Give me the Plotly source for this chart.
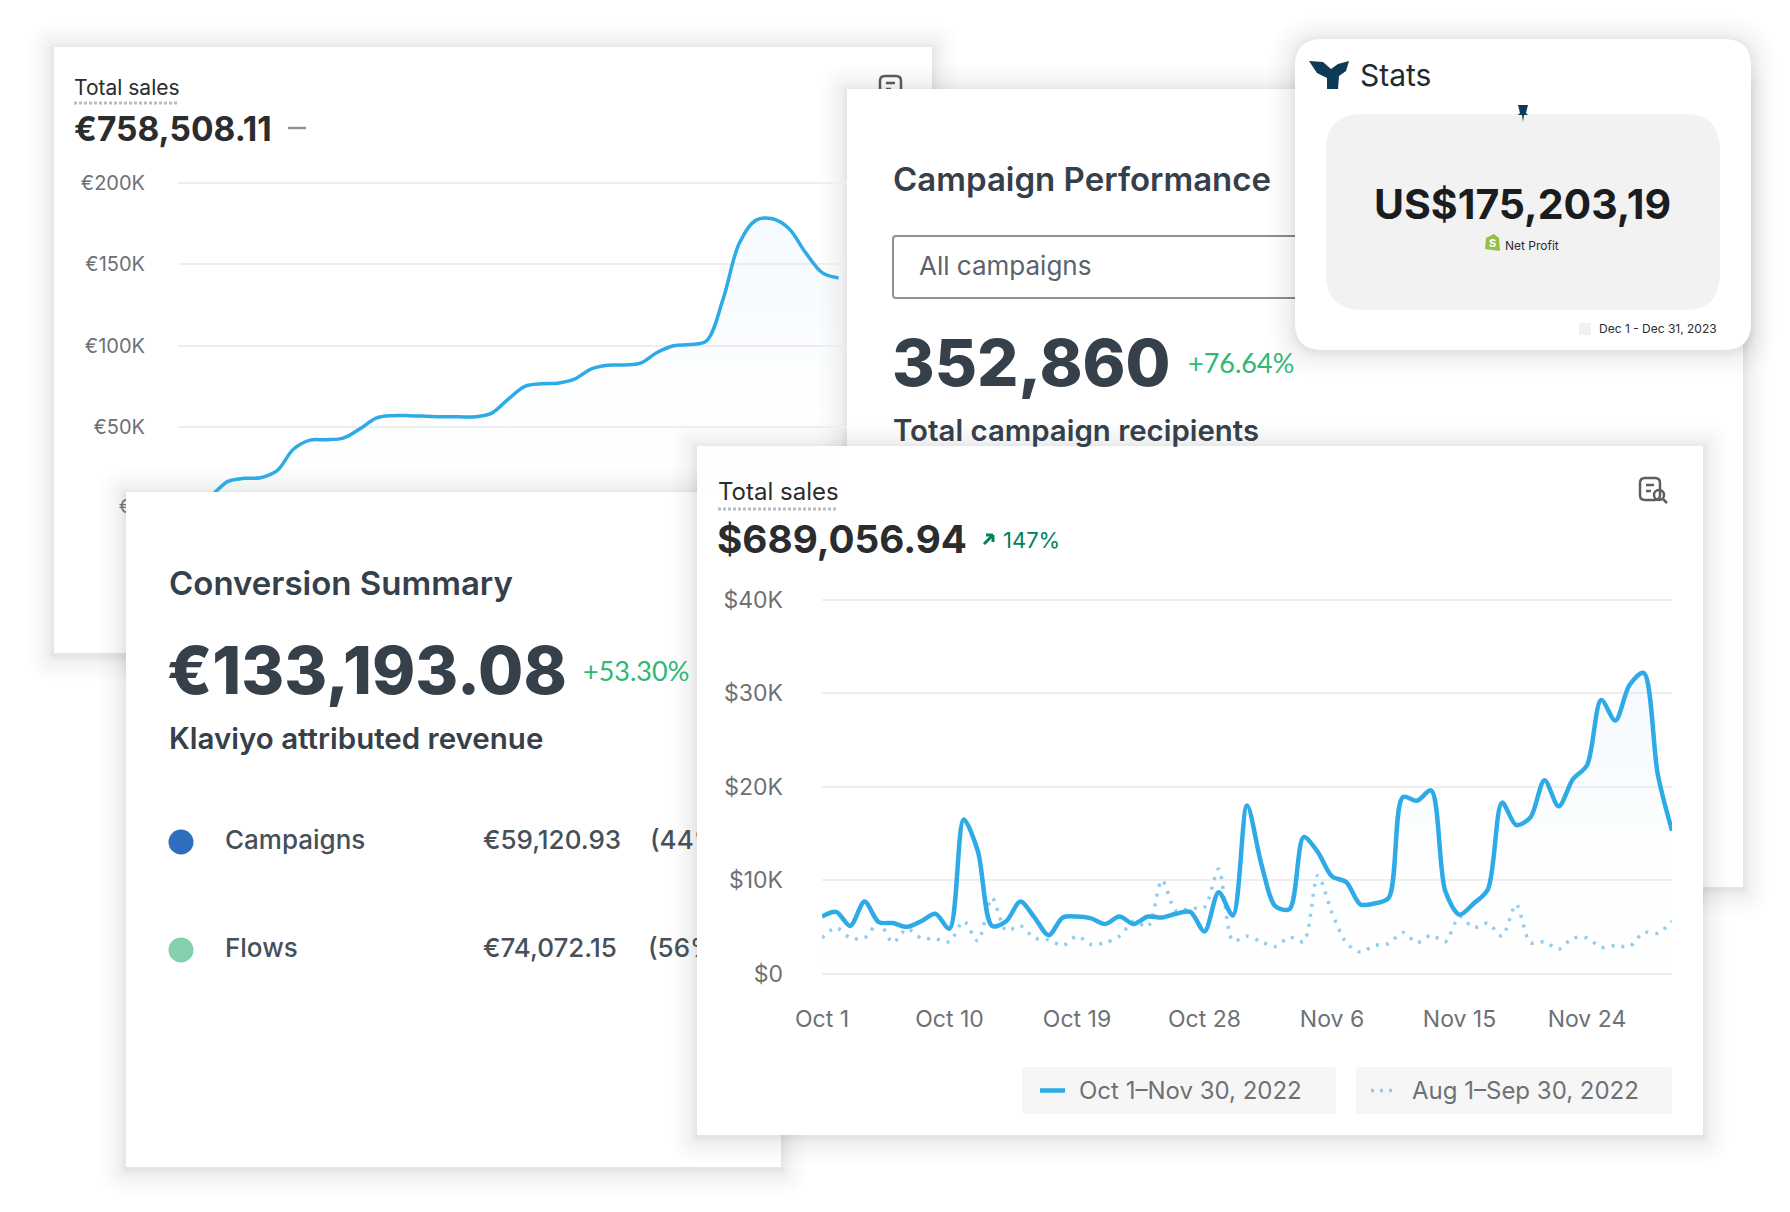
import plotly.graph_objects as go

# the page keeps its 8px body margin, so the figure is 8px short on each side
PAGE_MARGIN = 8
W = 1790 - 2 * PAGE_MARGIN
H = 1212 - 2 * PAGE_MARGIN

# --- chart data ---
oct_days = ['2022-10-%02d' % d for d in range(1, 32)] + ['2022-11-%02d' % d for d in range(1, 31)]
current_sales = [6.1, 6.6, 5.1, 7.7, 5.5, 5.4, 5.0, 5.6, 6.4, 4.8, 16.5, 13.1, 5.1, 5.6, 7.7, 6.0, 4.1, 6.0, 6.1, 5.9,
                 5.3, 6.1, 5.3, 6.1, 6.0, 6.4, 6.6, 4.5, 8.7, 6.2, 18.0, 11.8, 7.2, 6.9, 14.6, 13.0, 10.4, 9.8, 7.4, 7.5,
                 8.1, 18.9, 18.5, 19.6, 8.8, 6.3, 7.5, 9.0, 18.3, 15.9, 16.7, 20.7, 17.9, 20.8, 22.3, 29.3, 27.1, 30.9, 32.2, 21.3,
                 15.3]
previous_sales = [3.8, 4.9, 3.8, 3.8, 5.5, 3.3, 4.8, 3.8, 3.7, 3.4, 5.6, 3.5, 8.1, 4.6, 5.1, 3.8, 3.6, 3.0, 4.0, 3.1,
                  3.3, 4.0, 5.6, 5.0, 10.0, 6.7, 7.0, 7.1, 11.2, 3.5, 4.0, 3.4, 2.9, 3.9, 3.4, 10.5, 6.5, 3.3, 2.3, 3.0,
                  3.2, 4.4, 3.3, 4.1, 3.4, 6.1, 4.9, 5.4, 4.0, 7.4, 3.3, 3.4, 2.6, 3.8, 3.8, 2.8, 3.0, 2.9, 4.4, 4.3,
                  5.6]
front_y_vals = [0, 10, 20, 30, 40]
front_y_text = ['$0', '$10K', '$20K', '$30K', '$40K']
front_x_vals = ['2022-10-01', '2022-10-10', '2022-10-19', '2022-10-28', '2022-11-06', '2022-11-15', '2022-11-24']
front_x_text = ['Oct 1', 'Oct 10', 'Oct 19', 'Oct 28', 'Nov 6', 'Nov 15', 'Nov 24']

back_days = list(range(41))
back_sales = [0, 4, 8, 16.5, 18.5, 18.9, 23.2, 36.5, 42, 42.2, 43.2, 48.8, 55.5, 57, 57, 56.7, 56.3, 56.3, 56.3, 58.6, 67.2,
              75, 76.6, 77, 79.4, 85.6, 88, 88.2, 89.3, 95.8, 100, 100.7, 103, 128.5, 163.3, 177.2, 178, 171.9, 157.2, 144.9,
              141.6]
back_y_vals = [50, 100, 150, 200]
back_y_text = ['€50K', '€100K', '€150K', '€200K']

conv_names = ['Campaigns', 'Flows']
conv_values = ['€59,120.93', '€74,072.15']
conv_shares = ['(44%)', '(56%)']
conv_colors = ['#2f6dbd', '#84cfae']

BLUE = '#2eabe6'
LIGHT_BLUE = '#8fcdef'
GRID = '#eeeeef'
TICK = '#6d7175'
INK = '#2a2c2e'
SLATE = '#36404a'
GREEN = '#2fb873'


def px(x):
    return (x - PAGE_MARGIN) / W


def py(y):
    return 1 - (y - PAGE_MARGIN) / H


def rounded(x0, y0, x1, y1, r):
    # rounded rectangle as an svg path in paper coordinates
    a, b, c, d = px(x0), py(y0), px(x1), py(y1)
    rx, ry = r / W, r / H
    return ('M%f,%f L%f,%f Q%f,%f %f,%f L%f,%f Q%f,%f %f,%f L%f,%f Q%f,%f %f,%f L%f,%f Q%f,%f %f,%f Z'
            % (a + rx, b, c - rx, b, c, b, c, b - ry, c, d + ry, c, d, c - rx, d,
               a + rx, d, a, d, a, d + ry, a, b - ry, a, b, a + rx, b))


def poly(points):
    return 'M' + ' L'.join('%f,%f' % (px(x), py(y)) for x, y in points) + ' Z'


shapes = []


def box(x0, y0, x1, y1, r=0, fill='white', line=None, lw=0):
    shapes.append(dict(type='path', xref='paper', yref='paper', layer='below', path=rounded(x0, y0, x1, y1, r),
                       fillcolor=fill, line=dict(color=line or 'rgba(0,0,0,0)', width=lw)))


def panel(x0, y0, x1, y1, r=0):
    # fake the css box shadow with stacked translucent boxes, denser near the edge
    for s in [26, 22, 18, 15, 12, 10, 8, 6, 5, 4, 3, 2, 1]:
        box(x0 - s, y0 - s + 2, x1 + s, y1 + s + 2, r + s, fill='rgba(0,0,0,0.007)')
    box(x0, y0, x1, y1, r)


def seg(x0, y0, x1, y1, color, width, dash='solid'):
    shapes.append(dict(type='line', xref='paper', yref='paper', layer='below', x0=px(x0), y0=py(y0), x1=px(x1), y1=py(y1),
                       line=dict(color=color, width=width, dash=dash)))


def ring(x0, y0, x1, y1, color, width):
    shapes.append(dict(type='circle', xref='paper', yref='paper', layer='below', x0=px(x0), y0=py(y0), x1=px(x1), y1=py(y1),
                       line=dict(color=color, width=width)))


def report_icon(x0, y0, x1, y1):
    box(x0, y0, x1, y1 - 3, 5, fill='white', line='#5c5f62', lw=2.5)
    seg(x0 + 6, y0 + 7, x1 - 6, y0 + 7, '#5c5f62', 2.5)
    seg(x0 + 6, y0 + 13, x0 + 11, y0 + 13, '#5c5f62', 2.5)


annotations = []


def note(text, x, y, size, color=INK, weight=400, family='Inter', anchor='left'):
    annotations.append(dict(text=text, xref='paper', yref='paper', x=px(x), y=py(y), xanchor=anchor, yanchor='middle',
                            showarrow=False, borderpad=0,
                            font=dict(family=family, size=size, color=color, weight=weight)))


# back left panel (its icon is cut by the campaign panel, so it goes first)
panel(54, 47, 932, 653)
report_icon(880, 76, 901, 100)

# campaign panel
panel(847, 89, 1743, 887)
box(893, 236, 1330, 298, 3, fill='white', line='#8c9196', lw=2)

# stats card
panel(1295, 39, 1751, 350, 27)
box(1326, 114, 1720, 310, 36, fill='#f2f2f2')
box(1579, 323, 1591, 335, 0, fill='#f1f1f1')
shapes.append(dict(type='path', xref='paper', yref='paper', layer='below', fillcolor='#0d3a56', line=dict(width=0),
                   path=poly([(1309, 61), (1323, 62), (1331, 69), (1338, 64), (1349, 61), (1346, 71), (1339, 76),
                              (1338, 89), (1327, 89), (1327, 78), (1317, 73)])))
shapes.append(dict(type='path', xref='paper', yref='paper', layer='below', fillcolor='#0d3a56', line=dict(width=0),
                   path=poly([(1518, 105), (1528, 105), (1526, 113), (1528, 115), (1524, 115), (1523, 122), (1522, 115),
                              (1518, 115), (1520, 113)])))
shapes.append(dict(type='path', xref='paper', yref='paper', layer='below', fillcolor='#95bf47', line=dict(width=0),
                   path=poly([(1486, 238), (1494, 234), (1499, 238), (1500, 251), (1485, 249)])))

# conversion panel
panel(126, 492, 781, 1167)

# front panel
panel(697, 446, 1703, 1135)
report_icon(1640, 478, 1660, 503)
ring(1654, 490, 1664, 500, '#5c5f62', 2.5)
seg(1663, 499, 1667, 503, '#5c5f62', 2.5)
seg(984, 544, 993, 535, '#008060', 3)
seg(986, 535, 993, 535, '#008060', 3)
seg(993, 535, 993, 542, '#008060', 3)
box(1022, 1067, 1336, 1114, 3, fill='#f6f6f7')
box(1356, 1067, 1672, 1114, 3, fill='#f6f6f7')
seg(1040, 1090.5, 1065, 1090.5, BLUE, 4.5)
seg(1371, 1090.5, 1397, 1090.5, LIGHT_BLUE, 3.5, dash='3px,6px')

# dotted underlines and the dash next to the back total
seg(74, 103, 179, 103, '#b9bcbf', 3, dash='3px,2px')
seg(718, 509, 838, 509, '#b9bcbf', 3, dash='3px,2px')
seg(288, 128, 306, 128, '#8c9196', 2.5)

# texts
note('Total sales', 73, 88, 21)
note('€758,508.11', 73, 129, 33.5, weight=700)
note('Campaign Performance', 892, 179, 33, color=SLATE, weight=600)
note('All campaigns', 918, 266, 26, color='#59636e')
note('352,860', 891, 362, 65, color=SLATE, weight=800)
note('+76.64%', 1187, 363, 27, color=GREEN, family='Lato')
note('Total campaign recipients', 892, 431, 29.4, color=SLATE, weight=600)
note('Stats', 1359, 75, 30, color='#1f2a33')
note('US$175,203,19', 1522, 204, 41, color='#1a1c1e', weight=700, anchor='center')
note('S', 1492.5, 243, 11, color='white', weight=700, anchor='center')
note('Net Profit', 1504, 245, 12)
note('Dec 1 - Dec 31, 2023', 1598, 328, 12)
note('Conversion Summary', 168, 583, 33, color=SLATE, weight=600)
note('€133,193.08', 166, 670, 65.5, color=SLATE, weight=800)
note('+53.30%', 582, 670, 27, color=GREEN, family='Lato')
note('Klaviyo attributed revenue', 168, 738, 29.5, color=SLATE, weight=600)
note('Total sales', 717, 491, 24)
note('$689,056.94', 716, 539, 38.7, weight=700)
note('147%', 1002, 540, 22, color='#008060')
note('Oct 1–Nov 30, 2022', 1078, 1090, 24, color=TICK)
note('Aug 1–Sep 30, 2022', 1411, 1090, 24, color=TICK)

fade = [[0, 'rgba(225,240,252,0)'], [1, 'rgba(205,230,250,0.2)']]

fig = go.Figure()

# back chart
fig.add_trace(go.Scatter(x=back_days, y=back_sales, mode='lines', xaxis='x', yaxis='y', fill='tozeroy',
                         line=dict(color=BLUE, width=3.5, shape='spline', smoothing=1),
                         fillgradient=dict(type='vertical', colorscale=fade)))

# front chart
fig.add_trace(go.Scatter(x=oct_days, y=previous_sales, mode='lines', xaxis='x2', yaxis='y2',
                         line=dict(color=LIGHT_BLUE, width=3.5, dash='3px,7px', shape='spline', smoothing=0.8)))
fig.add_trace(go.Scatter(x=oct_days, y=current_sales, mode='lines', xaxis='x2', yaxis='y2', fill='tozeroy',
                         line=dict(color=BLUE, width=4.5, shape='spline', smoothing=0.85), cliponaxis=False,
                         fillgradient=dict(type='vertical', colorscale=fade)))

# conversion rows, clipped where the front panel starts
fig.add_trace(go.Scatter(x=[181, 181], y=conv_names, mode='markers', xaxis='x3', yaxis='y3',
                         marker=dict(size=25, color=conv_colors, line=dict(width=0))))
row_font = dict(family='Inter', size=26, color='#46505a', weight=500)
fig.add_trace(go.Scatter(x=[225, 225], y=conv_names, text=conv_names, mode='text', textposition='middle right',
                         xaxis='x3', yaxis='y3', textfont=row_font))
fig.add_trace(go.Scatter(x=[483, 483], y=conv_names, text=conv_values, mode='text', textposition='middle right',
                         xaxis='x3', yaxis='y3', textfont=row_font))
fig.add_trace(go.Scatter(x=[650, 648], y=conv_names, text=conv_shares, mode='text', textposition='middle right',
                         xaxis='x3', yaxis='y3', textfont=row_font))

# the zero tick of the back chart, nearly all hidden by the conversion panel
fig.add_trace(go.Scatter(x=[125], y=[0], text=['€'], mode='text', textposition='middle center', xaxis='x4', yaxis='y4',
                         textfont=dict(family='Inter', size=19, color=TICK)))

hidden = dict(visible=False, fixedrange=True)
row_top = (492 - 842) / 108
row_bottom = (1167 - 842) / 108

# ranges go slightly past the outer ticks, plotly drops gridlines that sit right on the edge
back_pad = 1
back_pad_px = back_pad * 81.4 / 50
front_pad = 0.2
front_pad_px = front_pad * 373.5 / 40

fig.update_layout(
    width=W, height=H, margin=dict(l=0, r=0, t=0, b=0, autoexpand=False), showlegend=False,
    paper_bgcolor='white', plot_bgcolor='rgba(0,0,0,0)',
    shapes=shapes, annotations=annotations,
    font=dict(family='Inter', color=TICK),
    xaxis=dict(domain=[px(178), px(847)], range=[0, 40 * 669 / 660.6], showgrid=False, zeroline=False,
               showticklabels=False, ticks=''),
    yaxis=dict(domain=[py(492), py(183 - back_pad_px)], range=[10.1, 200 + back_pad], tickvals=back_y_vals,
               ticktext=back_y_text, ticks='', gridcolor=GRID, gridwidth=2, zeroline=False, showline=False,
               tickfont=dict(size=20, color=TICK), ticklabelstandoff=32),
    xaxis2=dict(type='date', domain=[px(822), px(1672)], range=['2022-10-01', '2022-11-30'], tickvals=front_x_vals,
                ticktext=front_x_text, ticks='', showgrid=False, zeroline=False, showline=False, anchor='y2',
                tickfont=dict(size=23, color=TICK), ticklabelstandoff=28),
    yaxis2=dict(domain=[py(973.5 + front_pad_px), py(600 - front_pad_px)], range=[-front_pad, 40 + front_pad],
                tickvals=front_y_vals, ticktext=front_y_text, ticks='', gridcolor=GRID, gridwidth=2, zeroline=False,
                showline=False, anchor='x2', tickfont=dict(size=23, color=TICK), ticklabelstandoff=38),
    xaxis3=dict(domain=[px(126), px(697)], range=[126, 697], anchor='y3', **hidden),
    yaxis3=dict(domain=[py(1167), py(492)], type='category', categoryarray=conv_names, range=[row_bottom, row_top],
                anchor='x3', **hidden),
    xaxis4=dict(domain=[px(54), px(126)], range=[54, 126], anchor='y4', **hidden),
    yaxis4=dict(domain=[py(528), py(488)], range=[-1, 1], anchor='x4', **hidden),
)

fig.write_html("out.html")
